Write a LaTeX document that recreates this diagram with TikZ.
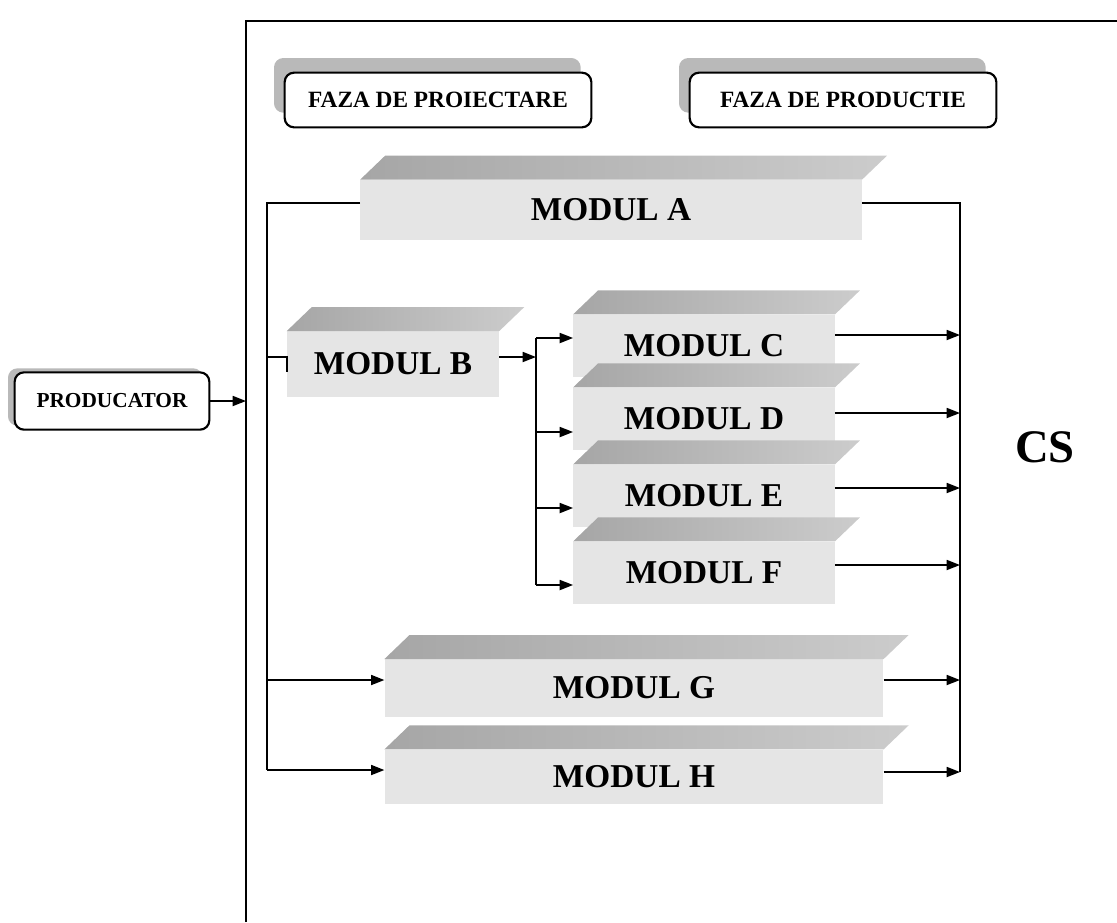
\documentclass[tikz,border=0pt]{standalone}
\usepackage{fontspec}
\setmainfont{Liberation Serif}
\usepackage{tikz}
\usetikzlibrary{positioning,calc,arrows.meta,shadows}

\tikzset{
  modul/.style={fill=gray!20, inner sep=0pt, font=\fontsize{25}{27}\selectfont\bfseries},
  box/.style={draw, line width=1.6pt, rounded corners=7pt, fill=white, inner sep=0pt,
              font=\fontsize{17.5}{19}\selectfont\bfseries},
  fazashadow/.style={drop shadow={shadow xshift=-8pt, shadow yshift=11pt, fill=gray!55, opacity=1}},
  prodshadow/.style={drop shadow={shadow xshift=-5pt, shadow yshift=3pt, fill=gray!55, opacity=1}},
  conn/.style={line width=1.3pt},
  arr/.style={conn, -{Triangle[length=10pt,width=7.5pt]}},
}

\begin{document}
\begin{tikzpicture}[x=0.75pt, y=-0.75pt]
\useasboundingbox (0,0) rectangle (1117,922);

% Shift of the top face of every module (in pixels)
\def \dx{ 25 }
\def \dy{ 24 }

% The frame of the system
\coordinate (frTL) at (246,21);
\draw[line width=1.4pt] (246,922) -- (frTL) -- (1117,21);

% The two phases
\node[box, fazashadow, minimum width=230pt, minimum height=41pt] (fProi) at (438,100) {FAZA DE PROIECTARE};
\node[box, fazashadow, minimum width=230pt, minimum height=41pt] (fProd) at (843,100) {FAZA DE PRODUCTIE};

% The producer
\node[box, prodshadow, minimum width=146pt, minimum height=43pt,
      font=\fontsize{16}{18}\selectfont\bfseries] (prod) at (112,401) {PRODUCATOR};

% Front faces of the modules
\node[modul, minimum width=376pt, minimum height=45pt] (mA) at (611,210) {MODUL A};
\node[modul, minimum width=159pt, minimum height=49pt] (mB) at (393,364) {MODUL B};
\node[modul, minimum width=196pt, minimum height=47pt] (mC) at (704,346) {MODUL C};
\node[modul, minimum width=196pt, minimum height=47pt] (mD) at (704,419) {MODUL D};
\node[modul, minimum width=196pt, minimum height=47pt] (mE) at (704,496) {MODUL E};
\node[modul, minimum width=196pt, minimum height=47pt] (mF) at (704,573) {MODUL F};
\node[modul, minimum width=374pt, minimum height=43pt] (mG) at (634,688) {MODUL G};
\node[modul, minimum width=374pt, minimum height=41pt] (mH) at (634,777) {MODUL H};

% Top faces of the modules (drawn after, so they cover the module above)
\foreach \m in {mA,mB,mC,mD,mE,mF,mG,mH}
  \shade[left color=gray!70, right color=gray!40]
    (\m.north west) -- ++(\dx,-\dy) -- ([shift={(\dx,-\dy)}]\m.north east)
    -- (\m.north east) -- cycle;

% The consumer
\node[font=\fontsize{35}{38}\selectfont\bfseries] (cs) at (1045,447) {CS};

% Producer into the system
\draw[arr] (prod.east) -- (prod.east -| frTL);

% Left bus
\coordinate (busA) at (267,203);
\coordinate (busB) at (267,357);
\coordinate (busG) at (267,680);
\coordinate (busH) at (267,770);
\draw[conn] (mA.west |- busA) -- (busA) -- (busH);
\draw[conn] (busB) -- (busB -| mB.west) -- ++(0,15);
\draw[arr]  (busG) -- (busG -| mG.west);
\draw[arr]  (busH) -- (busH -| mH.west);

% Branch after module B
\coordinate (brB) at (536,357);
\coordinate (brC) at (536,338);
\coordinate (brD) at (536,432);
\coordinate (brE) at (536,508);
\coordinate (brF) at (536,585);
\draw[arr]  (brB -| mB.east) -- (brB);
\draw[conn] (brC) -- (brF);
\foreach \p/\m in {brC/mC, brD/mD, brE/mE, brF/mF}
  \draw[arr] (\p) -- (\p -| \m.west);

% Right bus towards CS
\coordinate (csA) at (960,203);
\coordinate (csC) at (960,335);
\coordinate (csD) at (960,413);
\coordinate (csE) at (960,488);
\coordinate (csF) at (960,565);
\coordinate (csG) at (960,680);
\coordinate (csH) at (960,772);
\draw[conn] (mA.east |- csA) -- (csA) -- (csH);
\foreach \c/\m in {csC/mC, csD/mD, csE/mE, csF/mF, csG/mG, csH/mH}
  \draw[arr] (\c -| \m.east) -- (\c);
\end{tikzpicture}
\end{document}
